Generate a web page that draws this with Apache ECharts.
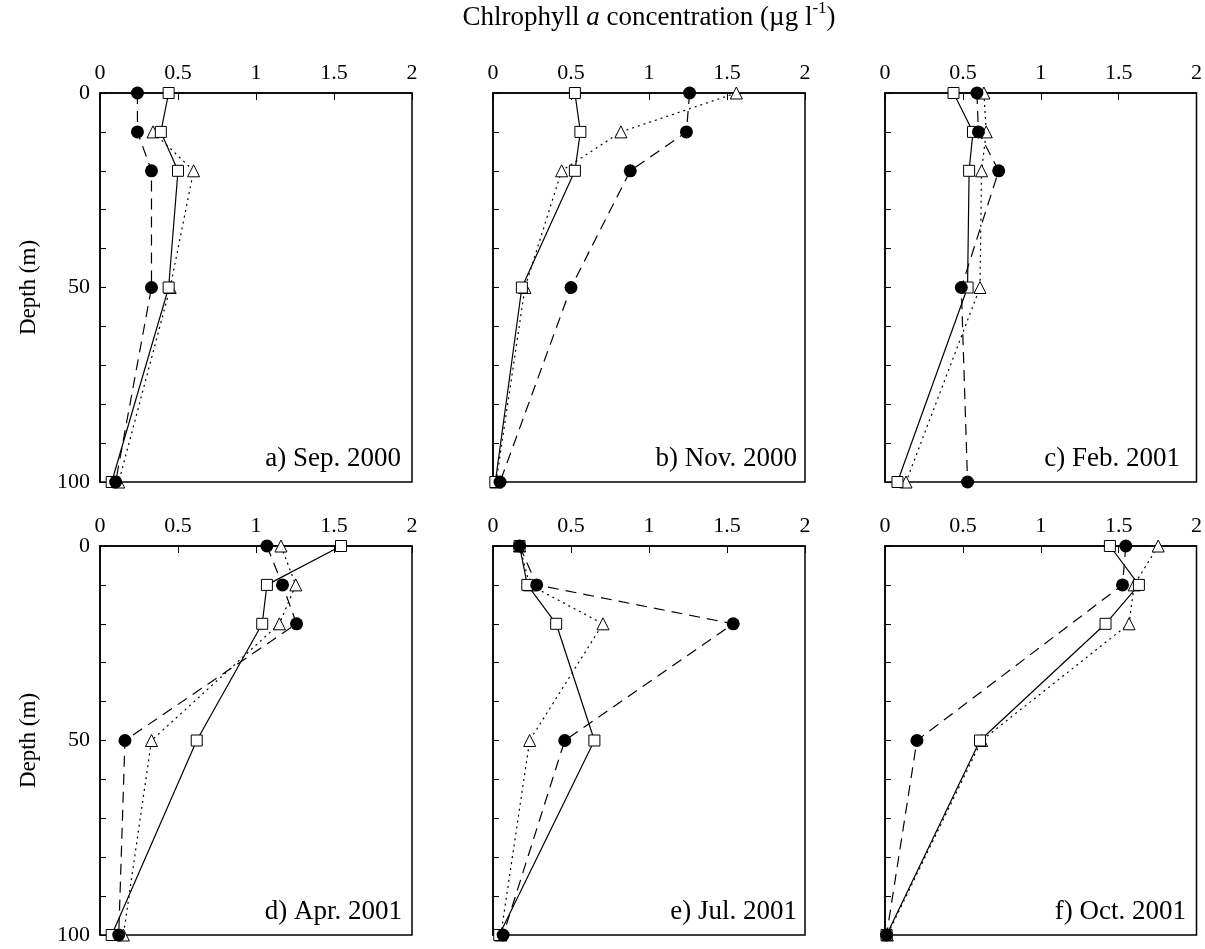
<!DOCTYPE html>
<html>
<head>
<meta charset="utf-8">
<script src="https://cdn.jsdelivr.net/npm/echarts@6/dist/echarts.min.js"></script>
<style>
  html, body { margin: 0; padding: 0; background: #fff; }
  #chart { width: 1205px; height: 949px; }
</style>
</head>
<body>
<div id="chart"></div>
<script>
// Sampling depths (m) shared by every profile
const depths = [0, 10, 20, 50, 100];

// Panel captions, in reading order
const panelLabels = ['a) Sep. 2000', 'b) Nov. 2000', 'c) Feb. 2001',
                     'd) Apr. 2001', 'e) Jul. 2001', 'f) Oct. 2001'];

// Chlorophyll a (µg l-1) per depth; null = no sample
const circleSeries = [
  [0.24, 0.24, 0.33, 0.33, 0.10],
  [1.26, 1.24, 0.88, 0.50, 0.045],
  [0.59, 0.60, 0.73, 0.49, 0.53],
  [1.07, 1.17, 1.26, 0.16, 0.12],
  [0.17, 0.28, 1.54, 0.46, 0.065],
  [1.546, 1.525, null, 0.205, 0.01]
];
const squareSeries = [
  [0.44, 0.39, 0.50, 0.44, 0.075],
  [0.525, 0.56, 0.525, 0.185, 0.015],
  [0.44, 0.565, 0.54, 0.53, 0.08],
  [1.545, 1.07, 1.04, 0.62, 0.075],
  [0.17, 0.22, 0.405, 0.65, 0.04],
  [1.444, 1.63, 1.416, 0.61, 0.01]
];
const triangleSeries = [
  [null, 0.34, 0.60, 0.45, 0.12],
  [1.56, 0.82, 0.44, 0.205, 0.02],
  [0.635, 0.65, 0.62, 0.61, 0.135],
  [1.16, 1.255, 1.15, 0.33, 0.15],
  [0.17, 0.235, 0.705, 0.235, 0.05],
  [1.754, 1.60, 1.567, 0.62, 0.015]
];

// Axis ticks
const xTicks = [0, 0.5, 1, 1.5, 2];
const depthLabels = [0, 50, 100];

const FONT = "'Liberation Serif', 'Times New Roman', serif";

// Panel layout
const colLeft = [100, 493, 885];
const rowTop = [93, 546];
const panelW = 312, panelH = 389;
const labelInset = [11, 8, 17, 10, 8, 11];

const grids = [], xAxes = [], yAxes = [], series = [], titles = [];

function profile(values) {
  const pts = [];
  values.forEach((v, i) => { if (v !== null) pts.push([v, depths[i]]); });
  return pts;
}

for (let p = 0; p < 6; p++) {
  const col = p % 3, row = Math.floor(p / 3);
  const left = colLeft[col], top = rowTop[row];
  grids.push({
    left: left, top: top, width: panelW, height: panelH,
    show: true, borderColor: '#000', borderWidth: 1.5,
    backgroundColor: 'transparent'
  });
  xAxes.push({
    gridIndex: p, type: 'value', position: 'top',
    min: xTicks[0], max: xTicks[xTicks.length - 1], interval: 0.5,
    axisLine: { show: true, lineStyle: { color: '#000', width: 1.5 } },
    axisTick: { show: true, inside: true, length: 7, lineStyle: { color: '#000', width: 1 } },
    splitLine: { show: false },
    axisLabel: {
      color: '#000', fontFamily: FONT, fontSize: 22, margin: 9,
      formatter: v => String(v)
    }
  });
  yAxes.push({
    gridIndex: p, type: 'value', inverse: true,
    min: 0, max: 100, interval: 10,
    name: col === 0 ? 'Depth (m)' : '',
    nameLocation: 'middle', nameGap: 60, nameRotate: 90,
    nameTextStyle: { color: '#000', fontFamily: FONT, fontSize: 23 },
    axisLine: { show: true, lineStyle: { color: '#000', width: 1.5 } },
    axisTick: { show: true, inside: true, length: 6, lineStyle: { color: '#000', width: 1 } },
    splitLine: { show: false },
    axisLabel: {
      show: col === 0, color: '#000', fontFamily: FONT, fontSize: 22, margin: 10,
      formatter: v => depthLabels.indexOf(v) >= 0 ? String(v) : ''
    }
  });

  // dotted line, open triangles
  series.push({
    type: 'line', xAxisIndex: p, yAxisIndex: p, clip: false,
    data: profile(triangleSeries[p]),
    symbol: 'triangle', symbolSize: 12,
    itemStyle: { color: '#fff', borderColor: '#000', borderWidth: 1 },
    lineStyle: { color: '#000', width: 1.2, type: [2, 4] },
    emphasis: { disabled: true }, animation: false, z: 2
  });
  // solid line, open squares
  series.push({
    type: 'line', xAxisIndex: p, yAxisIndex: p, clip: false,
    data: profile(squareSeries[p]),
    symbol: 'rect', symbolSize: 11,
    itemStyle: { color: '#fff', borderColor: '#000', borderWidth: 1 },
    lineStyle: { color: '#000', width: 1.2, type: 'solid' },
    emphasis: { disabled: true }, animation: false, z: 3
  });
  // dashed line, filled circles
  series.push({
    type: 'line', xAxisIndex: p, yAxisIndex: p, clip: false,
    data: profile(circleSeries[p]),
    symbol: 'circle', symbolSize: 13,
    itemStyle: { color: '#000', borderColor: '#000', borderWidth: 0 },
    lineStyle: { color: '#000', width: 1.2, type: [11, 7] },
    emphasis: { disabled: true }, animation: false, z: 4
  });

  titles.push({
    text: panelLabels[p],
    right: 1205 - (left + panelW) + labelInset[p],
    top: top + panelH - 37,
    padding: 0,
    textStyle: { color: '#000', fontFamily: FONT, fontSize: 27, fontWeight: 'normal' }
  });
}

const chart = echarts.init(document.getElementById('chart'), null, { renderer: 'canvas' });
chart.setOption({
  backgroundColor: '#fff',
  animation: false,
  title: titles,
  grid: grids,
  xAxis: xAxes,
  yAxis: yAxes,
  series: series,
  graphic: [{
    type: 'text',
    x: colLeft[1] + panelW / 2,
    y: 0,
    style: {
      text: '{n|Chlrophyll }{i|a}{n| concentration (µg l}{s|-1}{n|)}',
      align: 'center',
      verticalAlign: 'top',
      rich: {
        n: { fontFamily: FONT, fontSize: 27, fill: '#000', lineHeight: 31, verticalAlign: 'bottom' },
        i: { fontFamily: FONT, fontSize: 27, fontStyle: 'italic', fill: '#000', lineHeight: 31, verticalAlign: 'bottom' },
        s: { fontFamily: FONT, fontSize: 17, fill: '#000', lineHeight: 31, verticalAlign: 'top' }
      }
    }
  }]
});
</script>
</body>
</html>
